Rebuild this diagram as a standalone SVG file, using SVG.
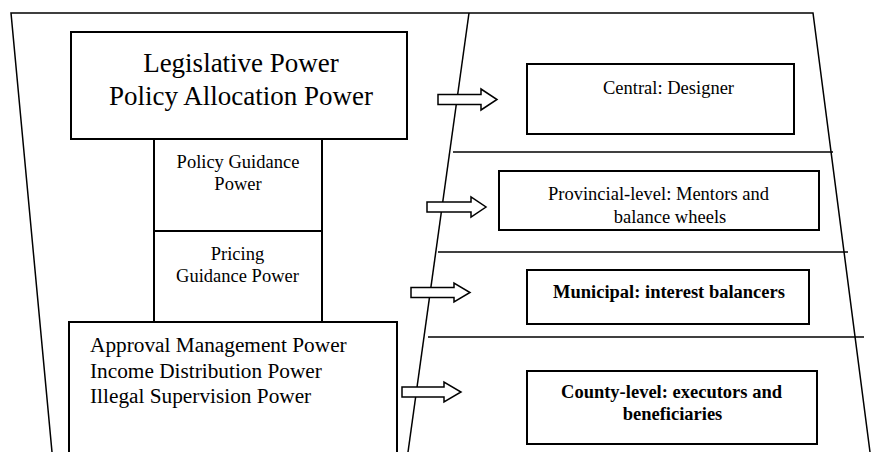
<svg xmlns="http://www.w3.org/2000/svg" width="876" height="452" viewBox="0 0 876 452">
<style>
.frame{fill:none;stroke:#000;stroke-width:1.5}
.box{fill:#fff;stroke:#000;stroke-width:2}
.arr{fill:#fff;stroke:#000;stroke-width:1.5;stroke-linejoin:miter}
text{font-family:"Liberation Serif","Times New Roman",serif;fill:#000}
.c{text-anchor:middle}
.b{font-weight:bold}
.s{font-size:18.5px}
</style>
<rect width="876" height="452" fill="#fff"/>
<g id="frame">
<polyline class="frame" points="52,452 11,13 813,13 870,452"/>
<line class="frame" x1="469" y1="13" x2="408" y2="452"/>
<line class="frame" x1="453" y1="152" x2="833" y2="152"/>
<line class="frame" x1="438" y1="252" x2="848" y2="252"/>
<line class="frame" x1="428" y1="337" x2="864" y2="337"/>
</g>
<g id="legislative">
<rect class="box" x="71" y="32" width="336" height="107"/>
<text class="c" x="241" y="72" font-size="27">Legislative Power</text>
<text class="c" x="241" y="105" font-size="27">Policy Allocation Power</text>
</g>
<g id="policy-guidance">
<rect class="box" x="154" y="139" width="168" height="92"/>
<text class="c s" x="238" y="168">Policy Guidance</text>
<text class="c s" x="238" y="190">Power</text>
</g>
<g id="pricing-guidance">
<rect class="box" x="154" y="231" width="168" height="91"/>
<text class="c s" x="237.5" y="260">Pricing</text>
<text class="c s" x="237.5" y="282">Guidance Power</text>
</g>
<g id="approval">
<rect class="box" x="69" y="322" width="328" height="140"/>
<text x="90" y="352" font-size="21.3">Approval Management Power</text>
<text x="90" y="378" font-size="21.3">Income Distribution Power</text>
<text x="90" y="403" font-size="21.3">Illegal Supervision Power</text>
</g>
<g id="central">
<rect class="box" x="527" y="64" width="267" height="70"/>
<text class="c s" x="668.5" y="94">Central: Designer</text>
</g>
<g id="provincial">
<rect class="box" x="499" y="171" width="320" height="59"/>
<text class="c s" x="658.5" y="200">Provincial-level: Mentors and</text>
<text class="c s" x="670" y="223">balance wheels</text>
</g>
<g id="municipal">
<rect class="box" x="527" y="270" width="282" height="54"/>
<text class="c b s" x="669" y="298">Municipal: interest balancers</text>
</g>
<g id="county">
<rect class="box" x="527" y="371" width="290" height="73"/>
<text class="c b s" x="671.5" y="398">County-level: executors and</text>
<text class="c b s" x="672.5" y="420">beneficiaries</text>
</g>
<g id="connectors">
<polygon class="arr" points="438,94.5 481,94.5 481,89 497,99.5 481,110 481,104.5 438,104.5"/>
<polygon class="arr" points="427,202 471,202 471,197 486,207 471,217 471,212 427,212"/>
<polygon class="arr" points="411,287.5 454,287.5 454,283 470,292.5 454,302 454,297.5 411,297.5"/>
<polygon class="arr" points="402,387 444,387 444,382 461,392 444,402 444,397 402,397"/>
</g>
</svg>
